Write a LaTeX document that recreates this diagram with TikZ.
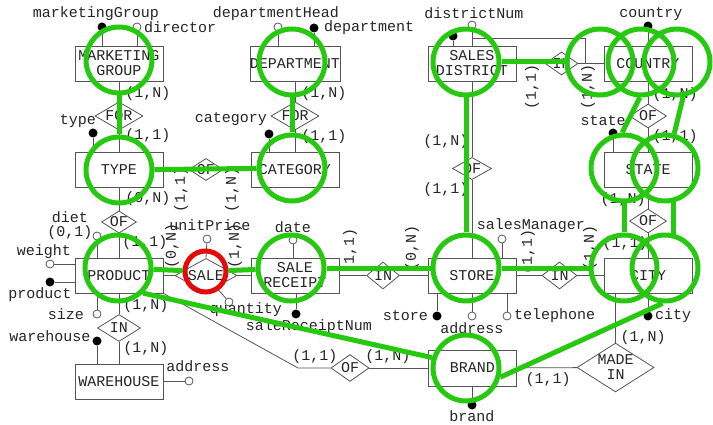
\documentclass[tikz,border=0pt]{standalone}
\usepackage{fontspec}
\newfontfamily\erfont{Liberation Mono}
\usetikzlibrary{shapes.geometric}
\definecolor{ink}{HTML}{555555}
\definecolor{grn}{RGB}{38,200,16}
\definecolor{hot}{RGB}{228,10,10}
\tikzset{
  txt/.style={font=\erfont\fontsize{15}{15}\selectfont, inner sep=0pt, text=black!85},
  ent/.style={txt, draw=ink, line width=0.8pt, minimum width=88pt, minimum height=35pt, align=center},
  rel/.style={txt, diamond, draw=ink, line width=0.8pt, aspect=1.5, minimum width=37pt, minimum height=24pt, align=center},
  edge/.style={draw=ink, line width=0.8pt},
  attr/.style={circle, draw=ink, fill=white, line width=0.8pt, minimum size=8pt, inner sep=0pt},
  keyattr/.style={circle, fill=black, minimum size=9pt, inner sep=0pt},
  card/.style={txt},
  gc/.style={circle, draw=grn, line width=5pt, minimum size=66pt, inner sep=0pt},
  rc/.style={circle, draw=hot, line width=5pt, minimum size=41pt, inner sep=0pt},
  gline/.style={draw=grn, line width=5pt},
}
\begin{document}
\begin{tikzpicture}[x=1pt, y=-1pt]
\useasboundingbox[fill=white] (0,0) rectangle (713,425);

% entities
\node[ent] (mg) at (119,63.5) {MARKETING\\GROUP};
\node[ent] (dept) at (295,63.5) {DEPARTMENT};
\node[ent] (sd) at (472,63.5) {SALES\\DISTRICT};
\node[ent] (country) at (648,63.5) {COUNTRY};
\node[ent] (type) at (119,169.5) {TYPE};
\node[ent] (cat) at (295,169.5) {CATEGORY};
\node[ent] (state) at (648,169.5) {STATE};
\node[ent] (product) at (119,275.5) {PRODUCT};
\node[ent] (receipt) at (295,275.5) {SALE\\RECEIPT};
\node[ent] (store) at (472,275.5) {STORE};
\node[ent] (city) at (648,275.5) {CITY};
\node[ent] (warehouse) at (119,381.5) {WAREHOUSE};
\node[ent, minimum height=36pt] (brand) at (472.5,368) {BRAND};

% relationships
\node[rel, minimum width=48pt] (for1) at (119,116) {FOR};
\node[rel, minimum width=48pt] (for2) at (295,116) {FOR};
\node[rel, minimum width=34pt, minimum height=22pt] (of1) at (206,169.5) {OF};
\node[rel, minimum width=35pt, minimum height=21pt] (of2) at (119,222) {OF};
\node[rel, minimum width=62pt, minimum height=34pt] (sale) at (206,275.5) {SALE};
\node[rel, minimum width=33pt, minimum height=27pt] (in1) at (383,275.5) {IN};
\node[rel, minimum width=35pt, minimum height=27pt] (in2) at (559.5,275.5) {IN};
\node[rel, minimum width=39pt, minimum height=22pt] (of3) at (472,168.5) {OF};
\node[rel, minimum width=31pt, minimum height=23pt] (in3) at (561.5,63.5) {IN};
\node[rel] (of4) at (648,116) {OF};
\node[rel] (of5) at (648,221) {OF};
\node[rel, minimum width=38pt, minimum height=27pt] (of6) at (350,368) {OF};
\node[rel, minimum width=43pt, minimum height=27pt] (in4) at (119,328) {IN};
\node[rel, minimum width=77pt, minimum height=41pt] (made) at (615.5,367.5) {MADE\\IN};

% connections
\draw[edge] (mg) -- (for1) -- (type);
\draw[edge] (dept) -- (for2) -- (cat);
\draw[edge] (type) -- (of1) -- (cat);
\draw[edge] (type) -- (of2) -- (product);
\draw[edge] (product) -- (sale) -- (receipt);
\draw[edge] (receipt) -- (in1) -- (store);
\draw[edge] (store) -- (in2) -- (city);
\draw[edge] (sd) -- (of3) -- (store);
\draw[edge] (sd) -- (in3) -- (country);
\coordinate (sdk) at (472,38);
\coordinate (sdb) at (585,38);
\draw[edge] (sdk) -- (sdb) -- (sdb |- country.west);
\draw[edge] (country) -- (of4) -- (state) -- (of5) -- (city);
\draw[edge] (product) -- (in4) -- (warehouse);
\coordinate (pb) at (298,368);
\draw[edge] (product.south east) -- (pb) -- (of6.west);
\draw[edge] (of6) -- (brand);
\draw[edge] (brand) -- (made);
\draw[edge] (made.north) -- (made.north |- city.south);

% attributes
\node[keyattr] (a1) at (102,27) {};
\node[attr] (a2) at (137,27) {};
\draw[edge] (a1) -- (a1 |- mg.north);
\draw[edge] (a2) -- (a2 |- mg.north);
\node[txt] at (96,14) {marketingGroup};
\node[txt, anchor=west] at (144,27) {director};

\node[attr] (a3) at (278,27) {};
\node[keyattr] (a4) at (314,28) {};
\draw[edge] (a3) -- (a3 |- dept.north);
\draw[edge] (a4) -- (a4 |- dept.north);
\node[txt] at (276,14) {departmentHead};
\node[txt, anchor=west] at (324,28) {department};

\node[keyattr] (a5) at (453,36) {};
\node[attr] (a6) at (472,25) {};
\draw[edge] (a5) -- (a5 |- sd.north);
\draw[edge] (a6) -- (a6 |- sd.north);
\node[txt] at (474,13) {districtNum};

\node[keyattr] (a7) at (648,26) {};
\draw[edge] (a7) -- (a7 |- country.north);
\node[txt] at (651,14) {country};

\node[keyattr] (a8) at (93,133) {};
\draw[edge] (a8) -- (a8 |- type.north);
\node[txt] at (78,121) {type};

\node[keyattr] (a9) at (269,134) {};
\draw[edge] (a9) -- (a9 |- cat.north);
\node[txt] at (231,119) {category};

\node[keyattr] (a10) at (613,133) {};
\draw[edge] (a10) -- (a10 |- state.north);
\node[txt] at (603,121) {state};

\node[attr] (a11) at (97,236) {};
\draw[edge] (a11) -- (a11 |- product.north);
\node[txt] at (70,217) {diet};
\node[txt] at (70,233) {(0,1)};
\node[attr] (a12) at (50,264) {};
\draw[edge] (a12) -- (a12 -| product.west);
\node[txt] at (44,252) {weight};
\node[keyattr] (a13) at (50,282) {};
\draw[edge] (a13) -- (a13 -| product.west);
\node[txt] at (40,295) {product};
\node[attr] (a14) at (97,314) {};
\draw[edge] (a14) -- (a14 |- product.south);
\node[txt] at (66,314) {size};

\node[keyattr] (a15) at (97,341) {};
\draw[edge] (a15) -- (a15 |- warehouse.north);
\node[txt] at (50,336) {warehouse};
\node[attr] (a16) at (189,381) {};
\draw[edge] (a16) -- (a16 -| warehouse.east);
\node[txt] at (198,366) {address};

\node[attr] (a17) at (207,239) {};
\draw[edge] (a17) -- (sale.north);
\node[txt] at (210,225) {unitPrice};
\node[attr] (a18) at (229,302) {};
\draw[edge] (a18) -- (sale);
\node[txt] at (246,310) {quantity};

\node[attr] (a19) at (293,240) {};
\draw[edge] (a19) -- (a19 |- receipt.north);
\node[txt] at (293,227) {date};
\node[keyattr] (a20) at (296,314) {};
\draw[edge] (a20) -- (a20 |- receipt.south);
\node[txt] at (309,327) {saleReceiptNum};

\node[attr] (a21) at (502,239) {};
\draw[edge] (a21) -- (a21 |- store.north);
\node[txt] at (531,226) {salesManager};
\node[keyattr] (a22) at (437,316) {};
\draw[edge] (a22) -- (a22 |- store.south);
\node[txt, anchor=east] at (428,316) {store};
\node[attr] (a23) at (472,316) {};
\draw[edge] (a23) -- (a23 |- store.south);
\node[txt] at (472,328) {address};
\node[attr] (a24) at (507,316) {};
\draw[edge] (a24) -- (a24 |- store.south);
\node[txt, anchor=west] at (514,316) {telephone};

\node[keyattr] (a25) at (648,316) {};
\draw[edge] (a25) -- (a25 |- city.south);
\node[txt, anchor=west] at (655,316) {city};

\node[keyattr] (a26) at (472,405) {};
\draw[edge] (a26) -- (a26 |- brand.south);
\node[txt] at (472,416.5) {brand};

% cardinalities
\node[card] at (148,94) {(1,N)};
\node[card] at (148,136) {(1,1)};
\node[card] at (324,94) {(1,N)};
\node[card] at (324,137) {(1,1)};
\node[card] at (148,199) {(0,N)};
\node[card] at (145,243) {(1,1)};
\node[card] at (446,142) {(1,N)};
\node[card] at (446,190) {(1,1)};
\node[card] at (675,95) {(1,N)};
\node[card] at (675,137) {(1,1)};
\node[card] at (623,200) {(1,N)};
\node[card] at (625,244) {(1,1)};
\node[card] at (146,306) {(1,N)};
\node[card] at (146,349) {(1,N)};
\node[card] at (315,357) {(1,1)};
\node[card] at (388,357) {(1,N)};
\node[card] at (548,380) {(1,1)};
\node[card] at (643,338) {(1,N)};
\node[card, rotate=90] at (181,190) {(1,1)};
\node[card, rotate=90] at (232,190) {(1,N)};
\node[card, rotate=90] at (172,246) {(0,N)};
\node[card, rotate=90] at (235,246) {(1,N)};
\node[card, rotate=90] at (350,251) {(1,1)};
\node[card, rotate=90] at (412,248) {(0,N)};
\node[card, rotate=90] at (528,252) {(1,1)};
\node[card, rotate=90] at (590,248) {(1,N)};
\node[card, rotate=90] at (532,87) {(1,1)};
\node[card, rotate=90] at (588,87) {(1,N)};

% highlight rings
\node[gc] (gmg) at (119,60) {};
\node[gc] (gdept) at (292,62) {};
\node[gc] (gsd) at (466,62) {};
\node[gc] (gc1) at (600,62) {};
\node[gc] (gc2) at (641,62) {};
\node[gc] (gc3) at (677,62) {};
\node[gc] (gtype) at (119,170) {};
\node[gc] (gcat) at (292,168) {};
\node[gc] (gsa) at (624,168) {};
\node[gc] (gsb) at (665,168) {};
\node[gc] (gprod) at (118,268) {};
\node[gc] (grec) at (291,268) {};
\node[gc] (gstore) at (466,268) {};
\node[gc] (gca) at (624,268) {};
\node[gc] (gcb) at (665,268) {};
\node[gc] (gbrand) at (466,368) {};
\node[rc] (rsale) at (205.5,271.5) {};

\draw[gline] (gmg) -- (gtype);
\draw[gline] (gdept) -- (gcat);
\draw[gline] (gtype) -- (gcat);
\draw[gline] (gsd) -- (gstore);
\draw[gline] (gsd) -- (gc1);
\draw[gline] (gc2.-92) -- (gsa.93);
\draw[gline] (gc3.-80) -- (gsb.75);
\draw[gline] (gsa.-90) -- (gca.90);
\draw[gline] (gsb.-76) -- (gcb.76);
\draw[gline] (gprod) -- (rsale) -- (grec);
\draw[gline] (grec) -- (gstore);
\draw[gline] (gstore) -- (gca);
\draw[gline] (gprod.-45) -- (gbrand.163);
\draw[gline] (gbrand.-15) -- (gcb.-94);
\end{tikzpicture}
\end{document}
